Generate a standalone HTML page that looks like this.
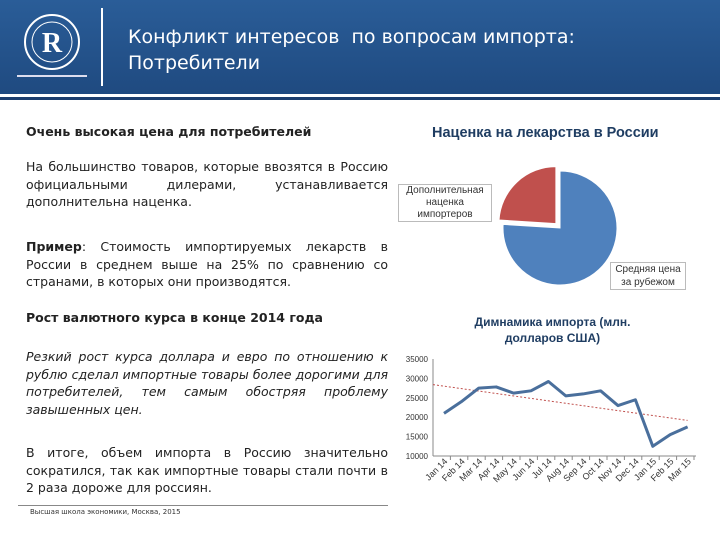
<!DOCTYPE html>
<html><head><meta charset="utf-8"><style>
body{margin:0;width:720px;height:540px;overflow:hidden;background:#fff;font-family:"Liberation Sans","DejaVu Sans",sans-serif;position:relative}
.hdr{position:absolute;left:0;top:0;width:720px;height:94px;background:linear-gradient(#2a5d98,#1f4a80)}
.hdr2{position:absolute;left:0;top:94px;width:720px;height:3px;background:#fff}
.hdr3{position:absolute;left:0;top:97px;width:720px;height:3px;background:#1c3e6e}
.t{position:absolute;color:#222;font-family:"DejaVu Sans","Liberation Sans",sans-serif}
p.j{position:absolute;margin:0;font-size:12.5px;line-height:17.5px;text-align:justify;color:#222;font-family:"DejaVu Sans",sans-serif}
</style></head><body>
<div class="hdr"></div>
<div class="hdr2"></div><div class="hdr3"></div>
<svg style="position:absolute;left:0;top:0" width="110" height="94">
<circle cx="52" cy="42" r="27" fill="none" stroke="#fff" stroke-width="2"/>
<circle cx="52" cy="42" r="20" fill="none" stroke="#fff" stroke-width="1"/>
<text x="52" y="52" fill="#fff" font-size="28" font-family="Liberation Serif" text-anchor="middle" font-weight="bold">R</text>
<rect x="17" y="75" width="70" height="2" fill="#dde"/>
</svg>
<div style="position:absolute;left:101px;top:8px;width:2px;height:78px;background:#fff"></div>
<div class="t" style="left:128px;top:24px;color:#fff;font-size:19px;line-height:26px">Конфликт интересов &nbsp;по вопросам импорта:<br>Потребители</div>
<div class="t" style="left:26px;top:124px;font-size:12.5px;font-weight:bold">Очень высокая цена для потребителей</div>
<p class="j" style="left:26px;top:158px;width:362px">На большинство товаров, которые ввозятся в Россию официальными дилерами, устанавливается дополнительна наценка.</p>
<p class="j" style="left:26px;top:238px;width:362px"><b>Пример</b>: Стоимость импортируемых лекарств в России в среднем выше на 25% по сравнению со странами, в которых они производятся.</p>
<div class="t" style="left:26px;top:310px;font-size:12.5px;font-weight:bold">Рост валютного курса в конце 2014 года</div>
<p class="j" style="left:26px;top:348px;width:362px;font-style:italic">Резкий рост курса доллара и евро по отношению к рублю сделал импортные товары более дорогими для потребителей, тем самым обостряя проблему завышенных цен.</p>
<p class="j" style="left:26px;top:444px;width:362px">В итоге, объем импорта в Россию значительно сократился, так как импортные товары стали почти в 2 раза дороже для россиян.</p>
<div style="position:absolute;left:18px;top:505px;width:370px;height:1px;background:#888"></div>
<div class="t" style="left:30px;top:508px;font-size:7px;color:#333">Высшая школа экономики, Москва, 2015</div>

<div class="t" style="left:432px;top:125px;font-size:14.5px;font-weight:bold;color:#1f3d62;font-family:'Liberation Sans',sans-serif">Наценка на лекарства в России</div>
<svg id="pie" style="position:absolute;left:0;top:0" width="720" height="540"></svg>
<div class="t" style="left:398px;top:184px;width:92px;border:1px solid #bbb;font-size:10px;line-height:12px;text-align:center;color:#333;background:#fff;font-family:'Liberation Sans'">Дополнительная наценка импортеров</div>
<div class="t" style="left:610px;top:262px;width:74px;border:1px solid #bbb;font-size:10px;line-height:13px;text-align:center;color:#333;background:#fff;font-family:'Liberation Sans'">Средняя цена за рубежом</div>

<div class="t" style="left:450px;top:314px;width:205px;text-align:center;font-size:12px;line-height:16px;font-weight:bold;color:#1f3d62;font-family:'Liberation Sans'">Димнамика импорта (млн. долларов США)</div>
<svg id="chart" style="position:absolute;left:0;top:0" width="720" height="540"></svg>
<script>
const pieLabels=["Средняя цена за рубежом","Дополнительная наценка импортеров"];
const pieValues=[76,24];
const months=["Jan 14","Feb 14","Mar 14","Apr 14","May 14","Jun 14","Jul 14","Aug 14","Sep 14","Oct 14","Nov 14","Dec 14","Jan 15","Feb 15","Mar 15"];
const imports=[21000,24000,27500,27800,26200,26800,29200,25500,26000,26800,23000,24500,12500,15500,17500];
const yTicks=[10000,15000,20000,25000,30000,35000];
const NS="http://www.w3.org/2000/svg";
function mk(svg,tag,at){const e=document.createElementNS(NS,tag);for(const k in at)e.setAttribute(k,at[k]);svg.appendChild(e);return e;}
const ps=document.getElementById('pie');
const tot=pieValues.reduce((a,b)=>a+b,0);
let a0=0;const cols=["#4f81bd","#c0504d"];
pieValues.forEach((v,i)=>{
 const a1=a0+v/tot*2*Math.PI;
 const mid=(a0+a1)/2;const off=i==1?6:0;
 const cx=560+off*Math.sin(mid),cy=228-off*Math.cos(mid),r=57;
 const x0=cx+r*Math.sin(a0),y0=cy-r*Math.cos(a0),x1=cx+r*Math.sin(a1),y1=cy-r*Math.cos(a1);
 const p=mk(ps,'path',{d:`M${cx},${cy}L${x0},${y0}A${r},${r} 0 ${a1-a0>Math.PI?1:0} 1 ${x1},${y1}Z`,fill:cols[i],stroke:'#fff','stroke-width':1});
 
 
 a0=a1;
});
const s=document.getElementById('chart');
const x0=433,xs=17.4,x=i=>444+i*xs;
const y=v=>456-(v-10000)/25000*97;
mk(s,'line',{x1:x0,y1:y(35000),x2:x0,y2:456,stroke:'#888','stroke-width':1});
mk(s,'line',{x1:x0,y1:456,x2:696,y2:456,stroke:'#888','stroke-width':1});
yTicks.forEach(t=>{
 const tx=mk(s,'text',{x:428,y:y(t)+3,'font-size':8,'text-anchor':'end',fill:'#333','font-family':'Liberation Sans'});tx.textContent=t;
 
 
});
months.forEach((m,i)=>{
 const xx=x0+(i+1)*xs;
 mk(s,'line',{x1:xx,y1:456,x2:xx,y2:460,stroke:'#888'});
 const tx=mk(s,'text',{x:x(i)+4,y:462,'font-size':9,'text-anchor':'end',fill:'#333','font-family':'Liberation Sans',transform:`rotate(-45 ${x(i)+4} 462)`});tx.textContent=m;
 
 
});
const n=imports.length;let sx=0,sy=0,sxy=0,sxx=0;
imports.forEach((v,i)=>{sx+=i;sy+=v;sxy+=i*v;sxx+=i*i;});
const b=(n*sxy-sx*sy)/(n*sxx-sx*sx),a=(sy-b*sx)/n;
const tr=mk(s,'line',{x1:x0,y1:y(a+b*((x0-444)/xs)),x2:x(n-1),y2:y(a+b*(n-1)),stroke:'#c0504d','stroke-width':1,'stroke-dasharray':'2,2'});


const ln=mk(s,'polyline',{points:imports.map((v,i)=>x(i)+','+y(v)).join(' '),fill:'none',stroke:'#4a6f9c','stroke-width':3,'stroke-linejoin':'round'});


</script>
</body></html>
